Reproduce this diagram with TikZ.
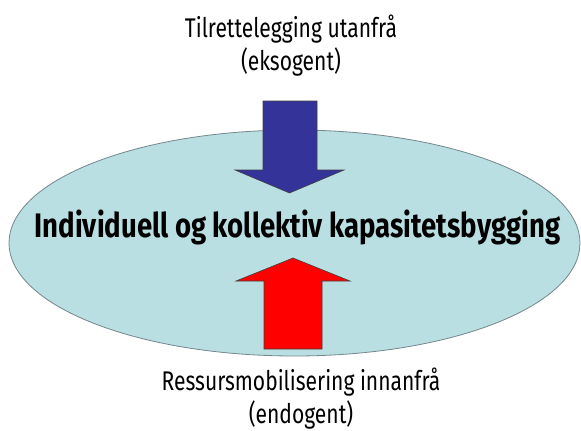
\documentclass[tikz,border=0pt]{standalone}
\usepackage{fontspec}
\setmainfont{Fira Sans}
\usetikzlibrary{shapes.geometric}
\definecolor{capfill}{RGB}{185,223,227}
\definecolor{capline}{RGB}{115,135,140}
\definecolor{extblue}{RGB}{51,51,153}
\definecolor{intred}{RGB}{255,0,0}
\tikzset{
  sidetext/.style ={align=center, inner sep=0pt, xscale=0.78, transform shape,
                   font=\fontsize{27}{33}\selectfont},
  coretext/.style ={inner sep=0pt, xscale=0.81, transform shape,
                   font=\bfseries\fontsize{34}{40}\selectfont},
  corefield/.style={ellipse, draw=capline, fill=capfill, line width=0.8pt,
                   minimum width=571pt, minimum height=226pt, inner sep=0pt},
  blockarrow/.style={draw=black!75, line width=0.6pt, line join=miter},
}

\begin{document}
\begin{tikzpicture}[x=1pt, y=-1pt]
  \useasboundingbox (0,0) rectangle (581,431);
  \node[corefield] (field) at (294.5,243) {};
  % block arrows: outside push and inside push
  \fill[extblue, blockarrow] (263,101) -- (317,101) -- (317,170) -- (344,170)
    -- (289.5,193) -- (235,170) -- (263,170) -- cycle;
  \fill[intred, blockarrow] (264,349) -- (322,349) -- (322,281) -- (350,281)
    -- (293,258) -- (236,281) -- (264,281) -- cycle;
  \node[coretext, anchor=base] (core) at (297.5,237) {Individuell og kollektiv kapasitetsbygging};
  \node[sidetext, anchor=north] (exo) at (291,15) {Tilrettelegging utanfrå\\(eksogent)};
  \node[sidetext, anchor=north] (endo) at (301,368) {Ressursmobilisering innanfrå\\(endogent)};
\end{tikzpicture}
\end{document}
